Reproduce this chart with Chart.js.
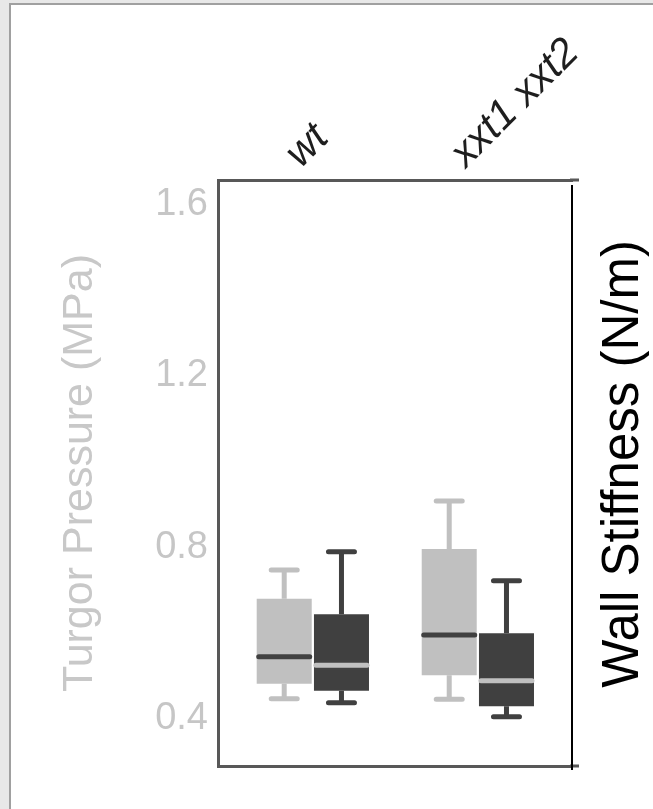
<!DOCTYPE html>
<html><head><meta charset="utf-8">
<script src="https://cdn.jsdelivr.net/npm/chart.js@4.4.0/dist/chart.umd.min.js"></script>
<style>
html,body{margin:0;padding:0;width:653px;height:809px;overflow:hidden;background:#e8e8e8;}
#sheet{position:absolute;left:9px;top:3px;right:0;bottom:0;background:#fff;border-left:2px solid #a0a0a0;border-top:2px solid #a0a0a0;}
#c{position:absolute;left:0;top:0;}
</style></head><body>
<div id="sheet"></div>
<canvas id="c" width="653" height="809"></canvas>
<script>
const categories = ['wt', 'xxt1 xxt2'];
const categoryPositions = [1, 2];
// Turgor Pressure (MPa): five-number summaries per genotype
const turgorMin = [0.447, 0.446];
const turgorQ1 = [0.482, 0.502];
const turgorMedian = [0.545, 0.596];
const turgorQ3 = [0.680, 0.796];
const turgorMax = [0.747, 0.908];
// Wall Stiffness (N/m): five-number summaries per genotype
const stiffMin = [0.438, 0.405];
const stiffQ1 = [0.466, 0.430];
const stiffMedian = [0.525, 0.489];
const stiffQ3 = [0.644, 0.600];
const stiffMax = [0.790, 0.722];
const yTicks = [0.4, 0.8, 1.2, 1.6];

const LIGHT = '#c0c0c0', DARK = '#404040', FRAME = '#585858';
const FONT = '"Liberation Sans", Arial, sans-serif';

function stats(mn, q1, md, q3, mx) {
  return mn.map((v, i) => ({min: v, q1: q1[i], median: md[i], q3: q3[i], max: mx[i]}));
}

const boxPlugin = {
  id: 'boxWhiskers',
  beforeDatasetsDraw(chart) {
    const ctx = chart.ctx;
    chart.data.datasets.forEach((ds, i) => {
      const meta = chart.getDatasetMeta(i);
      const ys = chart.scales[ds.yAxisID];
      meta.data.forEach((bar, j) => {
        const s = ds.stats[j];
        const x = bar.x;
        ctx.save();
        ctx.strokeStyle = ds.whiskerColor;
        ctx.lineWidth = 5;
        ctx.lineCap = 'butt';
        ctx.beginPath();
        ctx.moveTo(x, ys.getPixelForValue(s.q3)); ctx.lineTo(x, ys.getPixelForValue(s.max));
        ctx.moveTo(x, ys.getPixelForValue(s.q1)); ctx.lineTo(x, ys.getPixelForValue(s.min));
        ctx.stroke();
        ctx.lineCap = 'round';
        ctx.beginPath();
        const hw = 13;
        [s.max, s.min].forEach(v => {
          const y = ys.getPixelForValue(v);
          ctx.moveTo(x - hw, y); ctx.lineTo(x + hw, y);
        });
        ctx.stroke();
        ctx.restore();
      });
    });
  },
  afterDatasetsDraw(chart) {
    const ctx = chart.ctx;
    chart.data.datasets.forEach((ds, i) => {
      const meta = chart.getDatasetMeta(i);
      const ys = chart.scales[ds.yAxisID];
      meta.data.forEach((bar, j) => {
        const s = ds.stats[j];
        const y = ys.getPixelForValue(s.median);
        const hw = bar.width / 2 - 2;
        ctx.save();
        ctx.strokeStyle = ds.medianColor;
        ctx.lineWidth = 5;
        ctx.lineCap = 'round';
        ctx.beginPath();
        ctx.moveTo(bar.x - hw, y); ctx.lineTo(bar.x + hw, y);
        ctx.stroke();
        ctx.restore();
      });
    });
  }
};

const framePlugin = {
  id: 'frameExtras',
  afterDraw(chart) {
    const ctx = chart.ctx, a = chart.chartArea;
    ctx.save();
    ctx.strokeStyle = FRAME; ctx.lineWidth = 3;
    ctx.beginPath();
    ctx.moveTo(a.right - 2, a.top); ctx.lineTo(a.right + 7, a.top);
    ctx.moveTo(a.right - 2, a.bottom); ctx.lineTo(a.right + 7, a.bottom);
    ctx.stroke();
    ctx.strokeStyle = '#000'; ctx.lineWidth = 2;
    ctx.beginPath();
    ctx.moveTo(a.right, a.top + 5); ctx.lineTo(a.right, a.bottom + 4);
    ctx.stroke();
    // right axis title (reads bottom-to-top)
    const y2 = chart.scales.y2;
    ctx.translate(y2.left + 66, (a.top + a.bottom) / 2 - 9);
    ctx.rotate(-Math.PI / 2);
    ctx.fillStyle = '#000';
    ctx.font = '51px ' + FONT;
    ctx.textAlign = 'center';
    ctx.textBaseline = 'alphabetic';
    ctx.fillText('Wall Stiffness (N/m)', 0, 0);
    ctx.restore();
  }
};

const xMin = 0.4252, xMax = 2.5706, yMin = 0.2905, yMax = 1.656;

new Chart(document.getElementById('c'), {
  type: 'bar',
  data: {
    datasets: [
      {
        label: 'Turgor Pressure (MPa)',
        data: categoryPositions.map((p, i) => ({x: p, y: [turgorQ1[i], turgorQ3[i]]})),
        stats: stats(turgorMin, turgorQ1, turgorMedian, turgorQ3, turgorMax),
        backgroundColor: LIGHT, whiskerColor: LIGHT, medianColor: DARK,
        borderWidth: 0, borderSkipped: false,
        xAxisID: 'x', yAxisID: 'y',
        categoryPercentage: 0.694, barPercentage: 0.961
      },
      {
        label: 'Wall Stiffness (N/m)',
        data: categoryPositions.map((p, i) => ({x: p, y: [stiffQ1[i], stiffQ3[i]]})),
        stats: stats(stiffMin, stiffQ1, stiffMedian, stiffQ3, stiffMax),
        backgroundColor: DARK, whiskerColor: DARK, medianColor: LIGHT,
        borderWidth: 0, borderSkipped: false,
        xAxisID: 'x', yAxisID: 'y2',
        categoryPercentage: 0.694, barPercentage: 0.961
      }
    ]
  },
  options: {
    responsive: false,
    animation: false,
    devicePixelRatio: 1,
    layout: {padding: 0, autoPadding: false},
    plugins: {legend: {display: false}, tooltip: {enabled: false}},
    scales: {
      x: {
        type: 'linear', position: 'top', min: xMin, max: xMax,
        offset: false, bounds: 'data', grace: 0,
        afterBuildTicks: s => { s.ticks = categoryPositions.map(v => ({value: v})); },
        afterFit: s => { s.height = 180; },
        grid: {display: false, drawTicks: false, offset: false},
        border: {display: true, color: FRAME, width: 3},
        ticks: {
          minRotation: 45, maxRotation: 45, padding: 2, labelOffset: 15, autoSkip: false,
          color: '#1e1e1e', font: {family: FONT, size: 41, style: 'italic'},
          callback: v => categories[categoryPositions.indexOf(v)]
        }
      },
      x2: {
        type: 'linear', position: 'bottom', min: xMin, max: xMax, offset: false,
        afterFit: s => { s.height = 43; },
        grid: {display: false, drawTicks: false},
        border: {display: true, color: FRAME, width: 3},
        ticks: {display: false}
      },
      y: {
        type: 'linear', position: 'left', min: yMin, max: yMax,
        afterBuildTicks: s => { s.ticks = yTicks.map(v => ({value: v})); },
        afterFit: s => { s.width = 218; },
        grid: {display: false, drawTicks: false},
        border: {display: true, color: FRAME, width: 3},
        ticks: {padding: 10, color: '#c6c6c6', font: {family: FONT, size: 38}, callback: v => v.toFixed(1)},
        title: {display: true, text: 'Turgor Pressure (MPa)', color: '#c8c8c8',
                font: {family: FONT, size: 43}, padding: {top: 54, bottom: 0}}
      },
      y2: {
        type: 'linear', position: 'right', min: yMin, max: yMax,
        afterFit: s => { s.width = 81; },
        grid: {display: false, drawTicks: false},
        border: {display: false},
        ticks: {display: false}
      }
    }
  },
  plugins: [boxPlugin, framePlugin]
});
</script>
</body></html>
